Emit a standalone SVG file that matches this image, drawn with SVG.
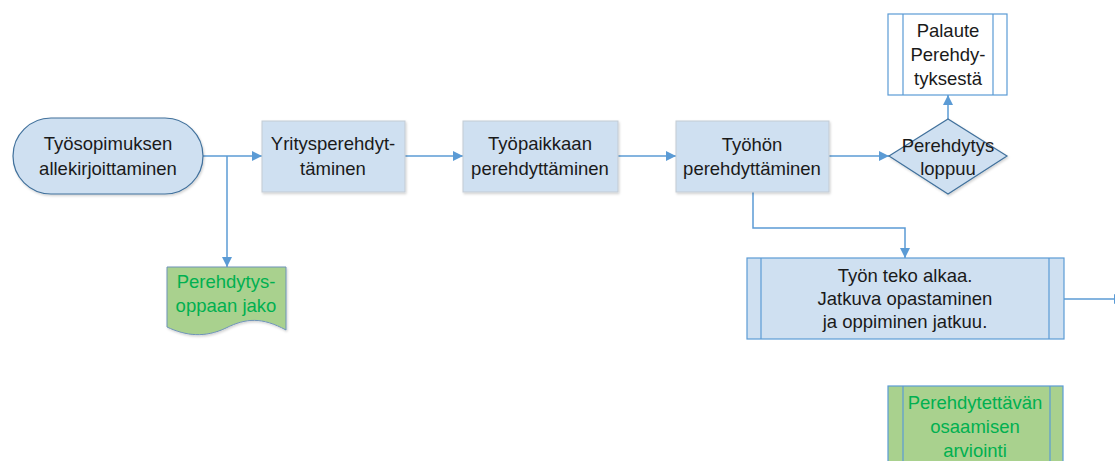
<svg xmlns="http://www.w3.org/2000/svg" width="1115" height="461" viewBox="0 0 1115 461">
<defs>
<marker id="arr" viewBox="0 0 10 10" refX="10" refY="5" markerWidth="10" markerHeight="10" markerUnits="userSpaceOnUse" orient="auto">
<path d="M0,0 L10,5 L0,10 Z" fill="#5b9bd5"/>
</marker>
<filter id="sh" x="-10%" y="-10%" width="130%" height="130%">
<feDropShadow dx="1" dy="1.5" stdDeviation="1" flood-color="#000" flood-opacity="0.18"/>
</filter>
</defs>
<style>
text{font-family:"Liberation Sans",Arial,sans-serif;font-size:18.5px;fill:#1a1a1a;text-anchor:middle}
.g text{fill:#00b050}
.box{fill:#cfe0f1;stroke:#c3cbd3;stroke-width:1}
.conn{fill:none;stroke:#5b9bd5;stroke-width:1.5}
</style>
<rect width="1115" height="461" fill="#fff"/>
<g id="connectors">
<path class="conn" d="M203,156 H262" marker-end="url(#arr)"/>
<path class="conn" d="M227,156 V267" marker-end="url(#arr)"/>
<path class="conn" d="M405,156 H463" marker-end="url(#arr)"/>
<path class="conn" d="M618,156 H676" marker-end="url(#arr)"/>
<path class="conn" d="M829,156 H889" marker-end="url(#arr)"/>
<path class="conn" d="M948,119 V95" marker-end="url(#arr)"/>
<path class="conn" d="M753,192 V228 H905 V258" marker-end="url(#arr)"/>
<path class="conn" d="M1064,299 H1124" marker-end="url(#arr)"/>
</g>
<g id="n1">
<rect x="13" y="118" width="190" height="76" rx="38" fill="#cfe0f1" stroke="#41719c" stroke-width="1.2" filter="url(#sh)"/>
<text x="108" y="150">Työsopimuksen</text>
<text x="108" y="175">allekirjoittaminen</text>
</g>
<g id="n2">
<rect class="box" x="262" y="121" width="143" height="71" filter="url(#sh)"/>
<text x="333" y="150">Yritysperehdyt-</text>
<text x="333" y="175">täminen</text>
</g>
<g id="n3">
<rect class="box" x="463" y="121" width="155" height="71" filter="url(#sh)"/>
<text x="540" y="150">Työpaikkaan</text>
<text x="540" y="175">perehdyttäminen</text>
</g>
<g id="n4">
<rect class="box" x="676" y="121" width="153" height="71" filter="url(#sh)"/>
<text x="752" y="151">Työhön</text>
<text x="752" y="175">perehdyttäminen</text>
</g>
<g id="n5">
<path d="M889,156 L948,119 L1007,156 L948,194 Z" fill="#cfe0f1" stroke="#41719c" stroke-width="1.2" filter="url(#sh)"/>
<text x="948" y="152">Perehdytys</text>
<text x="948" y="175">loppuu</text>
</g>
<g id="n6">
<rect x="888" y="14" width="119" height="81" fill="#fff" stroke="#5b9bd5" stroke-width="1.2"/>
<path d="M903,14 V95 M993,14 V95" stroke="#5b9bd5" stroke-width="1.2"/>
<text x="948" y="37">Palaute</text>
<text x="948" y="61">Perehdy-</text>
<text x="948" y="85">tyksestä</text>
</g>
<g id="n7" class="g">
<path d="M167,267 H286 V330 C262,317 246,318 226,328 C205,338 186,336 167,327 Z" fill="#a9d18e" stroke="#6f93b8" stroke-width="1" filter="url(#sh)"/>
<text x="226" y="288">Perehdytys-</text>
<text x="226" y="312">oppaan jako</text>
</g>
<g id="n8">
<rect x="747" y="258" width="317" height="81" fill="#cfe0f1" stroke="#5b9bd5" stroke-width="1.2"/>
<path d="M761,258 V339 M1049,258 V339" stroke="#5b9bd5" stroke-width="1.2"/>
<text x="905" y="282">Työn teko alkaa.</text>
<text x="905" y="305">Jatkuva opastaminen</text>
<text x="905" y="328">ja oppiminen jatkuu.</text>
</g>
<g id="n9" class="g">
<rect x="888" y="386" width="175" height="90" fill="#a9d18e" stroke="#5b9bd5" stroke-width="1.2"/>
<path d="M903,386 V476 M1050,386 V476" stroke="#5b9bd5" stroke-width="1.2"/>
<text x="975" y="409">Perehdytettävän</text>
<text x="975" y="433">osaamisen</text>
<text x="975" y="457">arviointi</text>
</g>
</svg>
